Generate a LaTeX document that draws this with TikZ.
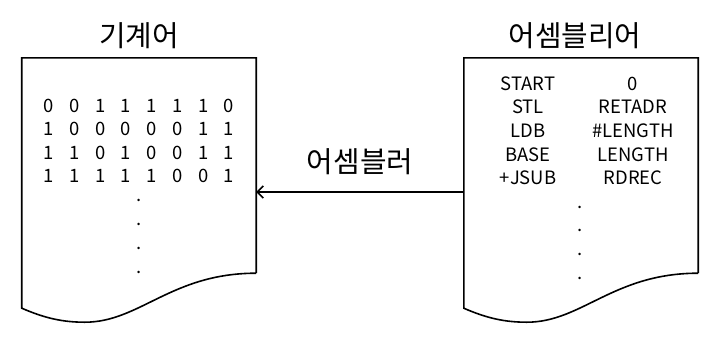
\documentclass[tikz,border=0pt]{standalone}
\usepackage{fontspec}
\setmainfont{Noto Sans CJK KR}
\usetikzlibrary{arrows.meta}

% outline of a document symbol around a named paper node
\newcommand\docoutline[1]{%
  \draw[outline] (#1.south east) -- (#1.north east) -- (#1.north west)
    -- ([yshift=-35bp]#1.south west)
    .. controls +(23,10) and +(-22,0) .. ++(63,14)
    .. controls +(55,0) and +(-85,0) .. (#1.south east);}

\begin{document}
\begin{tikzpicture}[x=1bp,y=-1bp,
  paper/.style={minimum width=234bp,minimum height=215bp,inner sep=0pt},
  word/.style={font=\fontsize{18.5}{22}\selectfont,inner sep=0pt,anchor=base},
  dot/.style={font=\fontsize{18.5}{22}\selectfont,inner sep=0pt},
  title/.style={font=\fontsize{29}{34}\selectfont,inner sep=0pt},
  outline/.style={line width=1.6bp}]
  \useasboundingbox (0,0) rectangle (722,341);

  \node[paper] (mc) at (139,165.5) {};
  \node[paper] (asm) at (581,165.5) {};
  \docoutline{mc}
  \docoutline{asm}

  \node[title] (mctitle) at (139,35.5) {기계어};
  \node[title] (asmtitle) at (575,35.5) {어셈블리어};

  % machine code
  \foreach \row [count=\r] in {{0,0,1,1,1,1,1,0},{1,0,0,0,0,0,1,1},
      {1,1,0,1,0,0,1,1},{1,1,1,1,1,0,0,1}}
    \foreach \b [count=\c] in \row
      \node[word] (bit\r\c) at ({23.3+25.7*\c},{88.5+23.5*\r}) {\b};
  \foreach \k in {0,...,3}
    \node[dot] (mcdot\k) at (139,{200+24*\k}) {.};

  % assembly code
  \foreach \op/\arg [count=\r] in {START/0,STL/RETADR,LDB/\#LENGTH,
      BASE/LENGTH,+JSUB/RDREC} {
    \node[word] (op\r) at (528,{66.3+23.7*\r}) {\op};
    \node[word] (arg\r) at (633,{66.3+23.7*\r}) {\arg};
  }
  \foreach \k in {0,...,3}
    \node[dot] (asmdot\k) at (580,{207+23.7*\k}) {.};

  \draw[outline,-{Straight Barb[length=6bp,width=12bp]}]
    ([yshift=-26.5bp]asm.west) -- ([yshift=-26.5bp]mc.east)
    node[midway,title,yshift=30bp] (asmlabel) {어셈블러};
\end{tikzpicture}
\end{document}
